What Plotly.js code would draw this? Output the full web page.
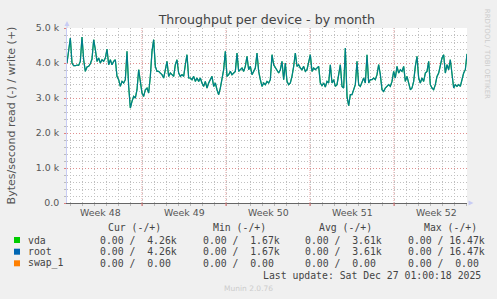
<!DOCTYPE html>
<html><head><meta charset="utf-8">
<script src="https://cdn.plot.ly/plotly-3.0.1.min.js"></script>
<style>html,body{margin:0;padding:0;background:#F0F0F0;}#chart{width:497px;height:299px;}</style>
</head><body><div id="chart"></div>
<script>
// ---- data ----
const startTime = '2025-11-23 18:00:00';   // first sample
const stepHours = 10 / 3;                  // sample spacing
const vdaWrite = [
4000,4380,4714,4000,3923,3923,3942,3932,4047,4742,
4094,3761,3885,3904,3980,4113,4666,4380,4047,4142,
4000,4094,4047,4142,4399,3951,4094,3951,4047,4094,
3618,3523,3332,3475,3428,3523,4332,3332,2713,2904,
3047,2999,3237,3809,3523,3142,3047,3237,3285,3142,
3618,4332,4666,3904,3761,3761,3713,3666,3571,3809,
4047,3618,3713,3666,3618,3951,4094,3713,3618,3666,
3618,3951,4237,3571,3571,3523,3618,3475,3571,3475,
3571,3428,3332,3475,3285,3428,3523,3618,3332,3428,
3237,3094,3285,3523,3809,4332,3618,3666,3761,3666,
3713,3761,4285,3761,3809,3856,3761,3904,4189,3809,
3904,
3666,3761,3856,4285,3761,3523,3332,3428,3380,3475,
3428,3523,4237,3951,3856,3761,3713,3809,4047,3523,
4000,3475,3380,3428,3618,3904,4285,3904,3951,3856,
3809,3904,3761,3809,4000,4237,3761,3856,3809,3856,
3904,3428,3351,3428,3313,3475,3428,3951,3428,3523,
3332,3380,3618,3951,3332,3285,4428,3047,2780,3094,
3094,3237,3380,4047,3380,3332,3475,3571,3428,4237,
3428,3523,3523,3571,3523,3666,3951,3666,3237,3189,
3285,3332,3380,3332,3475,3761,3571,3904,3713,3809,
3761,3904,3475,3618,3380,3237,3285,3475,3904,4189,
3571,3428,3571,3475,3713,3761,4047,3380,3285,3237,
3380,3618,3713,3904,4142,4237,3713,3951,3809,4094,
3666,3285,3380,3332,3380,3332,3523,3713,3809,4260
];
const rootWrite = vdaWrite.slice();        // identical device totals

const weekStarts = ['2025-11-30', '2025-12-07', '2025-12-14', '2025-12-21'];
const weekMids = ['2025-11-26 12:00', '2025-12-03 12:00', '2025-12-10 12:00', '2025-12-17 12:00', '2025-12-24 12:00'];
const weekLabels = ['Week 48', 'Week 49', 'Week 50', 'Week 51', 'Week 52'];
const yTickVals = [0, 1000, 2000, 3000, 4000, 5000];
const yTickText = ['0.0', '1.0 k', '2.0 k', '3.0 k', '4.0 k', '5.0 k'];

const seriesNames = ['vda', 'root', 'swap_1'];
const seriesColors = ['#00CC00', '#0066B3', '#FF8000'];
const statCur = ['0.00 /  4.26k', '0.00 /  4.26k', '0.00 /  0.00'];
const statMin = ['0.00 /  1.67k', '0.00 /  1.67k', '0.00 /  0.00'];
const statAvg = ['0.00 /  3.61k', '0.00 /  3.61k', '0.00 /  0.00'];
const statMax = ['0.00 / 16.47k', '0.00 / 16.47k', '0.00 /  0.00'];
const statHeaders = ['Cur (-/+)', 'Min (-/+)', 'Avg (-/+)', 'Max (-/+)'];

// ---- time axis values ----
function fmt(d) {
  const p = n => String(n).padStart(2, '0');
  return d.getUTCFullYear() + '-' + p(d.getUTCMonth() + 1) + '-' + p(d.getUTCDate()) + ' ' +
    p(d.getUTCHours()) + ':' + p(d.getUTCMinutes()) + ':' + p(d.getUTCSeconds());
}
const t0 = Date.UTC(2025, 10, 23, 18, 0, 0);
const times = vdaWrite.map((_, i) => fmt(new Date(t0 + i * stepHours * 3600000)));

// ---- layout geometry ----
const W = 497, H = 299, L = 67, R = 30, T = 28, B = 96;
const PW = W - L - R, PH = H - T - B;
const px = x => (x - L) / PW;
const py = y => (H - B - y) / PH;
const nb = s => s.replace(/ /g, '\u00A0');

const mono = {family: 'DejaVu Sans Mono', size: 9.8, color: '#444'};
const ann = [];
function txt(x, y, s, font, extra) {
  ann.push(Object.assign({xref: 'paper', yref: 'paper', x: px(x), y: py(y), text: nb(s),
    showarrow: false, xanchor: 'left', yanchor: 'middle', font: font, borderpad: 0}, extra || {}));
}
// week labels
weekLabels.forEach((w, i) => ann.push({xref: 'x', yref: 'paper', x: weekMids[i], y: py(212.5), text: w,
  showarrow: false, xanchor: 'center', yanchor: 'middle', borderpad: 0,
  font: {family: 'DejaVu Sans', size: 9.4, color: '#555'}}));
// legend table
const headX = [107, 212, 318, 423];
statHeaders.forEach((h, i) => txt(headX[i], 227, h, mono));
const rowY = [240, 251.7, 263.3];
const shapes = [];
seriesNames.forEach((n, i) => {
  txt(26.5, rowY[i], n, mono);
  txt(99.3, rowY[i], statCur[i], mono);
  txt(201.7, rowY[i], statMin[i], mono);
  txt(304, rowY[i], statAvg[i], mono);
  txt(406.7, rowY[i], statMax[i], mono);
  shapes.push({type: 'rect', xref: 'paper', yref: 'paper', x0: px(14), x1: px(20),
    y0: py(rowY[i] + 3), y1: py(rowY[i] - 3), fillcolor: seriesColors[i], line: {width: 0}});
});
txt(261.7, 275.7, 'Last update: Sat Dec 27 01:00:18 2025', mono);
ann.push({xref: 'paper', yref: 'paper', x: px(248), y: py(288.5), text: 'Munin 2.0.76', showarrow: false,
  xanchor: 'center', yanchor: 'middle', borderpad: 0, font: {family: 'DejaVu Sans', size: 7.5, color: '#cccccc'}});
ann.push({xref: 'paper', yref: 'paper', x: px(487.7), y: py(53.5), text: 'RRDTOOL / TOBI OETIKER', showarrow: false,
  textangle: 90, xanchor: 'center', yanchor: 'middle', borderpad: 0, font: {family: 'DejaVu Sans', size: 7, color: '#cccccc'}});

// week boundary gridlines (major, red dotted)
weekStarts.forEach(d => shapes.push({type: 'line', xref: 'x', yref: 'paper', x0: d, x1: d, y0: 0, y1: 1,
  layer: 'below', line: {color: '#E8A0A0', width: 1, dash: '1px,1px'}}));
weekStarts.forEach(d => shapes.push({type: 'line', xref: 'x', yref: 'paper', x0: d, x1: d, y0: 0, y1: py(206),
  line: {color: '#E07070', width: 1}}));
// axis arrows
shapes.push({type: 'path', xref: 'paper', yref: 'paper',
  path: `M ${px(64.5)} ${py(26)} L ${px(69.5)} ${py(26)} L ${px(67)} ${py(21)} Z`,
  fillcolor: '#C8CCF4', line: {width: 0}});
shapes.push({type: 'path', xref: 'paper', yref: 'paper',
  path: `M ${px(468.5)} ${py(200.5)} L ${px(468.5)} ${py(205.5)} L ${px(473.5)} ${py(203)} Z`,
  fillcolor: '#C8CCF4', line: {width: 0}});
shapes.push({type: 'line', xref: 'paper', yref: 'paper', x0: px(67), x1: px(67), y0: 1, y1: py(23),
  line: {color: '#C8CCF4', width: 1}});

const traces = [
  {x: times, y: vdaWrite, name: 'vda', type: 'scatter', mode: 'lines', line: {color: seriesColors[0], width: 1.2}},
  {x: times, y: rootWrite, name: 'root', type: 'scatter', mode: 'lines', line: {color: seriesColors[1], width: 1.2}, opacity: 0.78}
];

const layout = {
  width: W, height: H, margin: {l: L, r: R, t: T, b: B, pad: 0},
  paper_bgcolor: '#F0F0F0', plot_bgcolor: '#FFFFFF', showlegend: false,
  title: {text: 'Throughput per device - by month', x: 248.3 / W, xref: 'paper', xanchor: 'center',
    y: 1 - 19.3 / H, yref: 'container', yanchor: 'middle',
    font: {family: 'DejaVu Sans', size: 12.6, color: '#444'}},
  xaxis: {type: 'date', range: ['2025-11-23 18:00', '2025-12-27 02:00'],
    tickvals: weekMids, ticktext: weekLabels.map(() => ''), ticks: '', showgrid: false,
    showline: true, linecolor: '#666', linewidth: 1, zeroline: false, fixedrange: true,
    minor: {dtick: 86400000, tick0: '2025-11-23', showgrid: true, gridcolor: '#C0C0C0', griddash: '1px,2px',
      gridwidth: 1, ticks: 'outside', ticklen: 2, tickcolor: '#BBBBBB'}},
  yaxis: {range: [0, 5000], tickvals: yTickVals, ticktext: yTickText, ticks: 'outside', ticklen: 2,
    tickcolor: '#E08080', ticklabelstandoff: 3,
    tickfont: {family: 'DejaVu Sans', size: 9.4, color: '#555'},
    showgrid: true, gridcolor: '#E09090', griddash: '1px,2px', gridwidth: 1, zeroline: false,
    showline: true, linecolor: '#C8CCF4', linewidth: 1,
    title: {text: 'Bytes/second read (-) / write (+)', standoff: 17, font: {family: 'DejaVu Sans', size: 11, color: '#555'}},
    minor: {dtick: 200, showgrid: true, gridcolor: '#C0C0C0', griddash: '1px,2px', gridwidth: 1,
      ticks: 'outside', ticklen: 2, tickcolor: '#BBBBBB'}, fixedrange: true},
  shapes: shapes, annotations: ann
};
Plotly.newPlot('chart', traces, layout, {displayModeBar: false, staticPlot: true});
</script></body></html>
